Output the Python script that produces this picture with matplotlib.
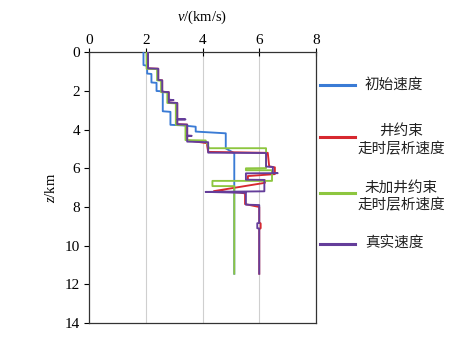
import matplotlib
matplotlib.use("Agg")
import matplotlib.pyplot as plt
from matplotlib.lines import Line2D

plt.rcParams['font.family'] = ['Liberation Serif', 'Noto Sans CJK SC']
plt.rcParams['mathtext.fontset'] = 'custom'
plt.rcParams['mathtext.rm'] = 'Liberation Serif'
plt.rcParams['mathtext.it'] = 'Liberation Serif:italic'

# ---- data (velocity km/s, depth km) ----
init_v = [1.92, 1.92, 2.05, 2.05, 2.2, 2.2, 2.38, 2.38, 2.6, 2.6, 2.87, 2.87, 3.3, 3.76, 3.76,
          4.82, 4.82, 5.12, 5.12]
init_z = [0.0, 0.66, 0.7, 1.1, 1.12, 1.56, 1.58, 2.0, 2.02, 3.05, 3.08, 3.75, 3.78, 3.85, 4.1,
          4.19, 4.97, 5.22, 11.45]

true_v = [2.08, 2.08, 2.44, 2.44, 2.58, 2.58, 2.81, 2.81, 2.98, 2.81, 2.81, 3.11, 3.11, 3.4, 3.11,
          3.11, 3.46, 3.46, 3.62, 3.46, 3.46, 4.2, 4.2, 6.24, 6.24, 6.48, 6.48, 6.65, 5.53, 5.53,
          6.18, 6.18, 4.11, 5.53, 5.53, 6.0, 6.0, 5.93, 5.93, 6.0, 6.0]
true_z = [0.0, 0.83, 0.85, 1.43, 1.45, 2.04, 2.06, 2.45, 2.47, 2.49, 2.6, 2.62, 3.45, 3.47, 3.49,
          3.72, 3.74, 4.3, 4.32, 4.34, 4.62, 4.65, 5.19, 5.21, 5.91, 5.93, 6.24, 6.25, 6.26, 6.59,
          6.6, 7.19, 7.22, 7.27, 7.88, 7.9, 8.83, 8.84, 9.1, 9.11, 11.45]

well_v = [2.08, 2.08, 2.44, 2.44, 2.58, 2.58, 2.81, 2.81, 3.11, 3.11, 3.46, 3.46, 4.15, 4.2,
          6.3, 6.35, 6.55, 6.55, 5.6, 5.6, 6.2, 6.2, 4.4, 5.3, 5.5, 5.5, 6.0, 6.0, 6.05, 6.05,
          6.0, 6.0]
well_z = [0.0, 0.83, 0.85, 1.43, 1.45, 2.04, 2.06, 2.6, 2.62, 3.72, 3.74, 4.55, 4.7, 5.15,
          5.2, 5.9, 5.95, 6.3, 6.4, 6.6, 6.62, 6.75, 7.18, 7.25, 7.3, 7.85, 8.0, 8.8, 8.85, 9.1,
          9.15, 11.45]

nowell_v = [2.03, 2.03, 2.4, 2.4, 2.54, 2.54, 2.76, 2.76, 3.06, 3.06, 3.4, 3.4, 4.11, 4.23,
            6.24, 6.24, 5.53, 5.53, 6.45, 6.45, 4.35, 4.35, 5.12, 5.12]
nowell_z = [0.0, 0.85, 0.87, 1.45, 1.47, 2.06, 2.08, 2.62, 2.64, 3.75, 3.77, 4.54, 4.56, 4.96,
            4.96, 5.99, 6.0, 6.1, 6.1, 6.65, 6.65, 6.92, 6.92, 11.45]

labels = ['初始速度', '井约束\n走时层析速度', '未加井约束\n走时层析速度', '真实速度']
colors = ['#3a7bd5', '#d7282f', '#8dc63f', '#643d9a']
x_ticks = [0, 2, 4, 6, 8]
y_ticks = [0, 2, 4, 6, 8, 10, 12, 14]

W, H = 457, 342
fig = plt.figure(figsize=(W / 100, H / 100), dpi=100)
ax = fig.add_axes([89 / W, 1 - 323 / H, (316 - 89) / W, (323 - 52.3) / H])

series = [(init_v, init_z), (well_v, well_z), (nowell_v, nowell_z), (true_v, true_z)]
order = [0, 2, 1, 3]
for i in order:
    v, z = series[i]
    ax.plot(v, z, color=colors[i], lw=1.35, zorder=3 + i)

ax.set_xlim(0, 8)
ax.set_ylim(14, 0)
ax.set_xticks(x_ticks)
ax.set_yticks(y_ticks)
for g in [2, 4, 6]:
    ax.axvline(g, color='#cfcfcf', lw=0.8, zorder=1)

ax.xaxis.tick_top()
ax.xaxis.set_label_position('top')
ax.tick_params(axis='x', direction='inout', length=6, width=0.8, pad=1, labelsize=11)
ax.tick_params(axis='y', direction='out', length=3.5, width=0.8, pad=3, labelsize=11)
for s in ax.spines.values():
    s.set_linewidth(0.9)
    s.set_color('#333333')

ax.set_xlabel('$v$/(km/s)', fontsize=10.5, labelpad=9)
ax.set_ylabel('$z$/km', fontsize=10.5, labelpad=5)

# legend (manual layout)
leg_y = [85, 137, 193, 244]
text_pos = [(365, 85, 'left'), (401, 140, 'center'), (401, 196.5, 'center'), (365, 244, 'left')]
for i in range(4):
    fy = 1 - leg_y[i] / H
    fig.add_artist(Line2D([320 / W, 355 / W], [fy, fy], color=colors[i], lw=2.2,
                          transform=fig.transFigure))
    tx, ty, ha = text_pos[i]
    fig.text(tx / W, 1 - ty / H, labels[i], ha=ha, va='center', multialignment='center',
             fontsize=10.5, linespacing=1.35, family=['Noto Sans CJK SC'], color='#222222')

fig.savefig('out.png', dpi=100)
